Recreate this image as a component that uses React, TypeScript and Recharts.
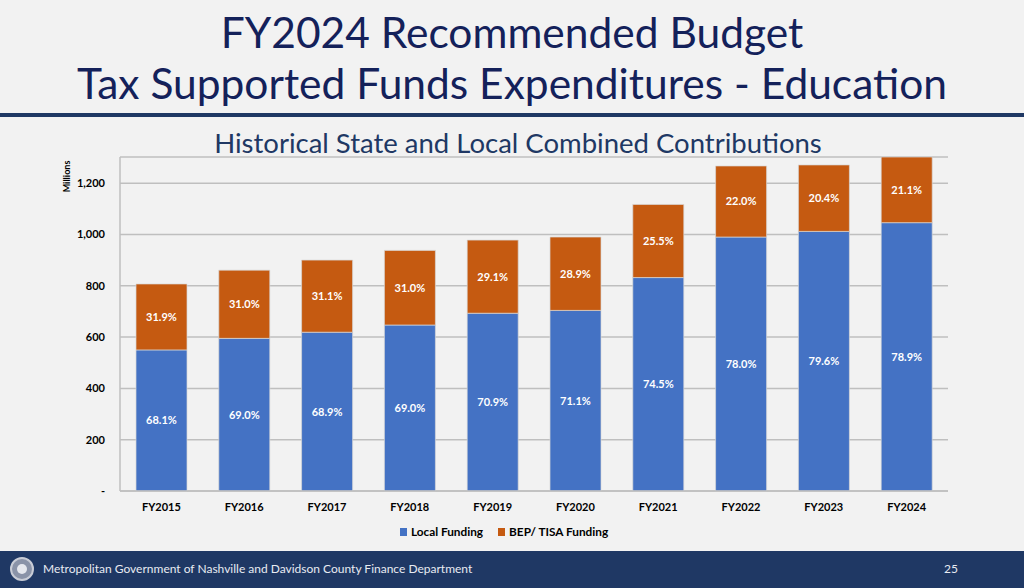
import React from "react";
import { BarChart, Bar, XAxis, YAxis, CartesianGrid, LabelList } from "recharts";

const categories = ["FY2015", "FY2016", "FY2017", "FY2018", "FY2019", "FY2020", "FY2021", "FY2022", "FY2023", "FY2024"];
// millions
const localFunding = [550, 595, 619, 647, 693, 704, 832, 990, 1012, 1046];
const bepFunding = [257, 266, 281, 291, 285, 286, 285, 277, 259, 256];
const localPct = ["68.1%", "69.0%", "68.9%", "69.0%", "70.9%", "71.1%", "74.5%", "78.0%", "79.6%", "78.9%"];
const bepPct = ["31.9%", "31.0%", "31.1%", "31.0%", "29.1%", "28.9%", "25.5%", "22.0%", "20.4%", "21.1%"];
const yTicks = [0, 200, 400, 600, 800, 1000, 1200];

const data = categories.map((name, i) => ({
  name,
  local: localFunding[i],
  bep: bepFunding[i],
  localPct: localPct[i],
  bepPct: bepPct[i],
}));

const FONT = "Lato, 'Open Sans', sans-serif";
const NAVY = "#1f3864";
const BLUE = "#4472c4";
const ORANGE = "#c55a11";

const fmtY = (v: number) => (v === 0 ? "-" : v.toLocaleString("en-US"));

export default function App() {
  return (
    <div
      style={{
        position: "absolute",
        left: 0,
        top: 0,
        width: 1024,
        height: 588,
        background: "#f2f2f2",
        fontFamily: FONT,
        overflow: "hidden",
      }}
    >
      {/* slide title */}
      <div style={{ position: "absolute", top: 6, left: 0, width: 1024, textAlign: "center", color: "#14215a", fontSize: 42.5, lineHeight: "51px" }}>
        FY2024 Recommended Budget
        <br />
        Tax Supported Funds Expenditures - Education
      </div>
      <div style={{ position: "absolute", top: 113, left: 0, width: 1024, height: 4, background: NAVY }} />

      <div style={{ position: "absolute", top: 126, left: 0, width: 1036, textAlign: "center", color: "#203864", fontSize: 27.5, lineHeight: "34px" }}>
        Historical State and Local Combined Contributions
      </div>

      <div
        style={{
          position: "absolute",
          left: 51,
          top: 171,
          fontSize: 9,
          fontWeight: 700,
          color: "#000",
          transform: "rotate(-90deg)",
          transformOrigin: "center",
        }}
      >
        Millions
      </div>

      <div style={{ position: "absolute", left: 0, top: 140 }}>
        <BarChart width={1024} height={400} data={data} margin={{ top: 17, right: 76, bottom: 19, left: 0 }}>
          <CartesianGrid vertical={false} stroke="#bfbfbf" strokeWidth={1.5} />
          <XAxis
            dataKey="name"
            tickLine={false}
            axisLine={{ stroke: "#bfbfbf", strokeWidth: 1.5 }}
            tick={{ fill: "#000", fontSize: 11, fontWeight: 700, fontFamily: FONT }}
            tickMargin={6}
            height={30}
          />
          <YAxis
            width={120}
            domain={[0, 1300]}
            ticks={yTicks}
            tickFormatter={fmtY}
            tickLine={false}
            axisLine={{ stroke: "#bfbfbf", strokeWidth: 1.5 }}
            tick={{ fill: "#000", fontSize: 11, fontWeight: 700, fontFamily: FONT }}
            tickMargin={9}
          />
          <Bar dataKey="local" stackId="a" fill={BLUE} barSize={51} stroke="#d9d9d9" strokeWidth={0.7} isAnimationActive={false}>
            <LabelList dataKey="localPct" position="center" fill="#fff" fontSize={11} fontWeight={700} fontFamily={FONT} />
          </Bar>
          <Bar dataKey="bep" stackId="a" fill={ORANGE} barSize={51} stroke="#d9d9d9" strokeWidth={0.7} isAnimationActive={false}>
            <LabelList dataKey="bepPct" position="center" fill="#fff" fontSize={11} fontWeight={700} fontFamily={FONT} />
          </Bar>
        </BarChart>
      </div>

      {/* legend */}
      <div
        style={{
          position: "absolute",
          top: 524,
          left: 0,
          width: 1008,
          textAlign: "center",
          fontSize: 11.8,
          fontWeight: 700,
          color: "#000",
        }}
      >
        <span style={{ display: "inline-block", width: 7, height: 8, background: BLUE, marginRight: 4 }} />
        Local Funding
        <span style={{ display: "inline-block", width: 7, height: 8, background: ORANGE, marginLeft: 15, marginRight: 4 }} />
        BEP/ TISA Funding
      </div>

      {/* footer */}
      <div style={{ position: "absolute", left: 0, top: 551, width: 1024, height: 37, background: "#1f3864" }}>
        <svg width={28} height={30} style={{ position: "absolute", left: 8, top: 3 }}>
          <circle cx={14} cy={15} r={11} fill="#8a93a8" stroke="#c8ccd6" strokeWidth={2} />
          <circle cx={14} cy={15} r={5} fill="#e6e8ee" />
        </svg>
        <div style={{ position: "absolute", left: 43, top: 10, fontSize: 12, color: "#e8ebf2" }}>
          Metropolitan Government of Nashville and Davidson County Finance Department
        </div>
        <div style={{ position: "absolute", left: 944, top: 10, fontSize: 12, color: "#e8ebf2" }}>25</div>
      </div>
    </div>
  );
}
